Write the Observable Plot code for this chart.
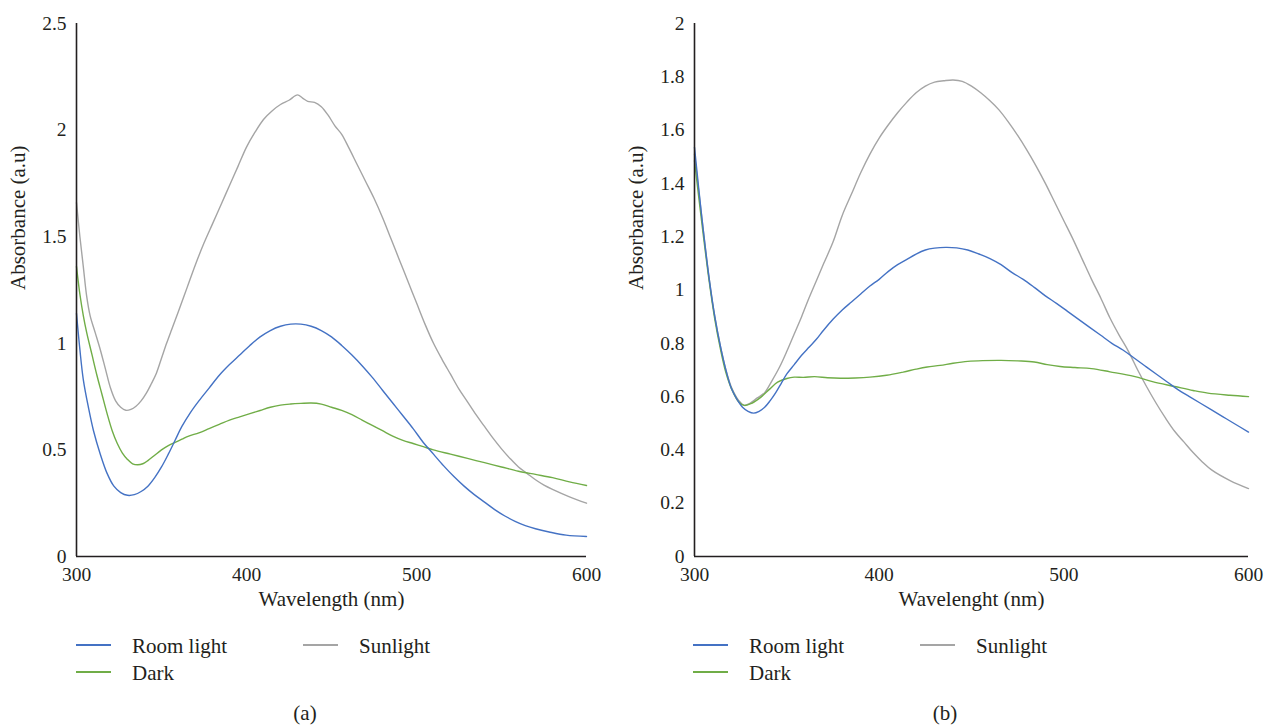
<!DOCTYPE html>
<html>
<head>
<meta charset="utf-8">
<script src="https://cdn.jsdelivr.net/npm/d3@7"></script>
<script src="https://cdn.jsdelivr.net/npm/@observablehq/plot@0.6"></script>
<style>
  body { margin: 0; background: #fff; }
  #fig { position: relative; width: 1265px; height: 726px; font-family: "Liberation Serif", "DejaVu Serif", serif; color: #231f20; }
  .panel { position: absolute; top: 0; }
  #notes { position: absolute; left: 0; top: 620px; }
</style>
</head>
<body>
<div id="fig">
  <div class="panel" id="panelA" style="left:0px"></div>
  <div class="panel" id="panelB" style="left:632px"></div>
</div>
<script>
// Axis ticks
const xTicks = [300, 400, 500, 600];
const yTicksA = [0, 0.5, 1, 1.5, 2, 2.5];
const yTicksB = [0, 0.2, 0.4, 0.6, 0.8, 1, 1.2, 1.4, 1.6, 1.8, 2];

// Series (legend order) and their colours
const seriesNames = ["Room light", "Sunlight", "Dark"];
const seriesColors = ["#4472C4", "#A5A5A5", "#70AD47"];

// Panel (a): [wavelength nm, absorbance a.u]
const roomLightA = [
  [300,1.14],[302,0.97],[304,0.83],[307,0.70],[310,0.59],[314,0.48],[318,0.39],[322,0.33],
  [326,0.30],[330,0.287],[334,0.29],[338,0.305],[342,0.33],[346,0.37],[350,0.42],[354,0.48],
  [358,0.545],[362,0.61],[367,0.675],[372,0.73],[378,0.79],[384,0.85],[390,0.90],[396,0.945],
  [402,0.99],[408,1.03],[414,1.06],[420,1.08],[426,1.09],[432,1.09],[438,1.08],[444,1.06],
  [450,1.03],[456,0.99],[462,0.945],[468,0.895],[474,0.84],[480,0.78],[486,0.72],[492,0.66],
  [498,0.60],[504,0.535],[510,0.48],[516,0.425],[522,0.375],[528,0.33],[534,0.29],[540,0.255],
  [546,0.22],[552,0.19],[558,0.165],[564,0.145],[570,0.13],[578,0.115],[588,0.10],[600,0.094]
];
const sunlightA = [
  [300,1.66],[302,1.50],[304,1.36],[306,1.22],[308,1.13],[311,1.05],[314,0.97],[317,0.88],
  [320,0.79],[323,0.73],[326,0.70],[329,0.686],[332,0.69],[335,0.705],[338,0.73],[341,0.765],
  [344,0.81],[347,0.86],[350,0.93],[353,1.00],[356,1.065],[360,1.15],[365,1.26],[370,1.37],
  [375,1.47],[380,1.56],[385,1.65],[390,1.74],[395,1.83],[400,1.92],[405,1.99],[410,2.05],
  [415,2.09],[420,2.12],[425,2.14],[430,2.165],[433,2.15],[436,2.135],[440,2.13],[444,2.11],
  [448,2.07],[452,2.02],[456,1.98],[460,1.92],[465,1.84],[470,1.76],[475,1.68],[480,1.59],
  [485,1.49],[490,1.39],[495,1.29],[500,1.19],[505,1.09],[510,1.00],[515,0.925],[520,0.855],
  [525,0.785],[530,0.725],[535,0.665],[540,0.61],[545,0.555],[550,0.505],[555,0.46],[560,0.42],
  [565,0.39],[570,0.36],[575,0.335],[580,0.315],[590,0.28],[600,0.25]
];
const darkA = [
  [300,1.36],[302,1.23],[304,1.13],[306,1.05],[309,0.95],[312,0.85],[315,0.76],[318,0.67],
  [321,0.59],[324,0.53],[327,0.485],[330,0.455],[333,0.435],[336,0.43],[339,0.435],[342,0.45],
  [346,0.475],[350,0.50],[354,0.52],[358,0.535],[362,0.55],[366,0.565],[372,0.58],[378,0.60],
  [384,0.62],[390,0.64],[396,0.655],[402,0.67],[408,0.685],[414,0.70],[420,0.71],[426,0.715],
  [432,0.718],[438,0.72],[444,0.715],[450,0.70],[456,0.685],[462,0.665],[468,0.64],[474,0.615],
  [480,0.59],[486,0.565],[492,0.545],[498,0.53],[504,0.515],[510,0.50],[520,0.48],[530,0.46],
  [540,0.44],[550,0.42],[560,0.40],[570,0.385],[580,0.37],[590,0.35],[600,0.333]
];

// Panel (b): [wavelength nm, absorbance a.u]
const roomLightB = [
  [300,1.535],[304,1.27],[308,1.04],[311,0.90],[314,0.79],[317,0.70],[320,0.63],[323,0.59],
  [326,0.56],[329,0.545],[332,0.538],[335,0.545],[338,0.56],[341,0.585],[344,0.615],[347,0.65],
  [350,0.685],[354,0.72],[358,0.755],[362,0.785],[366,0.815],[370,0.85],[375,0.89],[380,0.925],
  [385,0.955],[390,0.985],[395,1.015],[400,1.04],[405,1.07],[410,1.095],[415,1.115],[420,1.135],
  [425,1.15],[430,1.157],[436,1.16],[442,1.158],[448,1.15],[454,1.135],[460,1.118],[466,1.095],
  [472,1.065],[478,1.04],[484,1.01],[490,0.978],[496,0.95],[502,0.92],[508,0.89],[514,0.86],
  [520,0.83],[526,0.80],[532,0.775],[538,0.745],[544,0.715],[550,0.685],[556,0.655],[562,0.625],
  [568,0.60],[574,0.575],[580,0.55],[586,0.525],[592,0.50],[600,0.467]
];
const sunlightB = [
  [300,1.51],[304,1.27],[308,1.04],[311,0.90],[314,0.79],[317,0.70],[320,0.635],[324,0.585],
  [327,0.567],[330,0.575],[334,0.595],[338,0.615],[342,0.66],[346,0.71],[350,0.77],[354,0.835],
  [358,0.90],[362,0.97],[366,1.035],[370,1.10],[375,1.18],[380,1.28],[385,1.36],[390,1.44],
  [395,1.51],[400,1.57],[405,1.62],[410,1.665],[415,1.705],[420,1.74],[425,1.765],[430,1.78],
  [435,1.785],[440,1.788],[445,1.783],[450,1.765],[455,1.74],[460,1.71],[465,1.675],[470,1.63],
  [475,1.58],[480,1.525],[485,1.465],[490,1.40],[495,1.33],[500,1.26],[505,1.19],[510,1.115],
  [515,1.04],[520,0.97],[525,0.895],[530,0.83],[535,0.77],[540,0.70],[545,0.635],[550,0.575],
  [555,0.52],[560,0.47],[565,0.43],[570,0.39],[575,0.355],[580,0.325],[590,0.285],[600,0.255]
];
const darkB = [
  [300,1.485],[304,1.25],[308,1.03],[311,0.89],[314,0.78],[317,0.69],[320,0.63],[324,0.58],
  [327,0.567],[331,0.575],[336,0.598],[341,0.63],[345,0.654],[350,0.668],[354,0.673],[359,0.672],
  [365,0.675],[372,0.671],[379,0.669],[387,0.670],[395,0.673],[404,0.68],[413,0.692],[420,0.703],
  [426,0.711],[433,0.717],[440,0.725],[448,0.732],[456,0.735],[466,0.736],[475,0.734],[484,0.73],
  [491,0.72],[498,0.713],[506,0.709],[515,0.705],[525,0.693],[538,0.676],[548,0.656],[560,0.638],
  [570,0.623],[578,0.613],[590,0.605],[600,0.60]
];

const ink = "#231f20";
const serif = "'Liberation Serif', 'DejaVu Serif', serif";

function toRows(pairs, series) {
  return pairs.map(([wavelength, absorbance]) => ({wavelength, absorbance, series}));
}

function spectrumChart({data, yDomain, yTicks, xLabel, width, marginLeft, marginRight}) {
  return Plot.plot({
    width,
    height: 620,
    marginLeft,
    marginRight,
    marginTop: 23,
    marginBottom: 64,
    style: `font-family: ${serif}; font-size: 19.5px; color: ${ink}; background: transparent; overflow: visible;`,
    x: {domain: [300, 600]},
    y: {domain: yDomain},
    color: {domain: seriesNames, range: seriesColors},
    marks: [
      Plot.axisX({ticks: xTicks, tickSize: 0, tickPadding: 11, tickFormat: d => String(d), label: null, fontSize: 19.5}),
      Plot.axisY({ticks: yTicks, tickSize: 0, tickPadding: 10, tickFormat: d => String(d), label: null, fontSize: 19.5}),
      Plot.line(data, {x: "wavelength", y: "absorbance", z: "series", stroke: "series", curve: "catmull-rom", strokeWidth: 1.4}),
      Plot.ruleX([300], {stroke: ink, strokeWidth: 1.6}),
      Plot.ruleY([0], {stroke: ink, strokeWidth: 1.6}),
      Plot.text([xLabel], {text: d => d, frameAnchor: "bottom", dy: 49, fontSize: 21, fill: ink}),
      Plot.text(["Absorbance (a.u)"], {text: d => d, frameAnchor: "left", dx: -58, rotate: -90, fontSize: 21, fill: ink})
    ]
  });
}

// Draw order: sunlight underneath, room light on top
const dataA = [...toRows(sunlightA, "Sunlight"), ...toRows(darkA, "Dark"), ...toRows(roomLightA, "Room light")];
const dataB = [...toRows(sunlightB, "Sunlight"), ...toRows(darkB, "Dark"), ...toRows(roomLightB, "Room light")];

document.getElementById("panelA").append(spectrumChart({
  data: dataA, yDomain: [0, 2.5], yTicks: yTicksA, xLabel: "Wavelength (nm)",
  width: 632, marginLeft: 76, marginRight: 46
}));
document.getElementById("panelB").append(spectrumChart({
  data: dataB, yDomain: [0, 2], yTicks: yTicksB, xLabel: "Wavelenght (nm)",
  width: 633, marginLeft: 62, marginRight: 17
}));

// Legends and panel captions below the charts
const notes = d3.select("#fig").append("svg")
  .attr("id", "notes").attr("width", 1265).attr("height", 106)
  .style("font-family", serif).style("font-size", "21px");

const legendLayouts = [
  {left: 76, caption: "(a)", captionX: 305, colGap: 227},
  {left: 693, caption: "(b)", captionX: 945, colGap: 227}
];
for (const layout of legendLayouts) {
  const slots = [
    {name: "Room light", dx: 0, y: 25},
    {name: "Sunlight", dx: layout.colGap, y: 25},
    {name: "Dark", dx: 0, y: 52}
  ];
  for (const s of slots) {
    const color = seriesColors[seriesNames.indexOf(s.name)];
    const x0 = layout.left + s.dx;
    notes.append("line").attr("x1", x0).attr("x2", x0 + 35).attr("y1", s.y).attr("y2", s.y)
      .attr("stroke", color).attr("stroke-width", 2);
    notes.append("text").attr("x", x0 + 56).attr("y", s.y + 8).attr("fill", ink).text(s.name);
  }
  notes.append("text").attr("x", layout.captionX).attr("y", 100).attr("text-anchor", "middle")
    .attr("fill", ink).text(layout.caption);
}
</script>
</body>
</html>
